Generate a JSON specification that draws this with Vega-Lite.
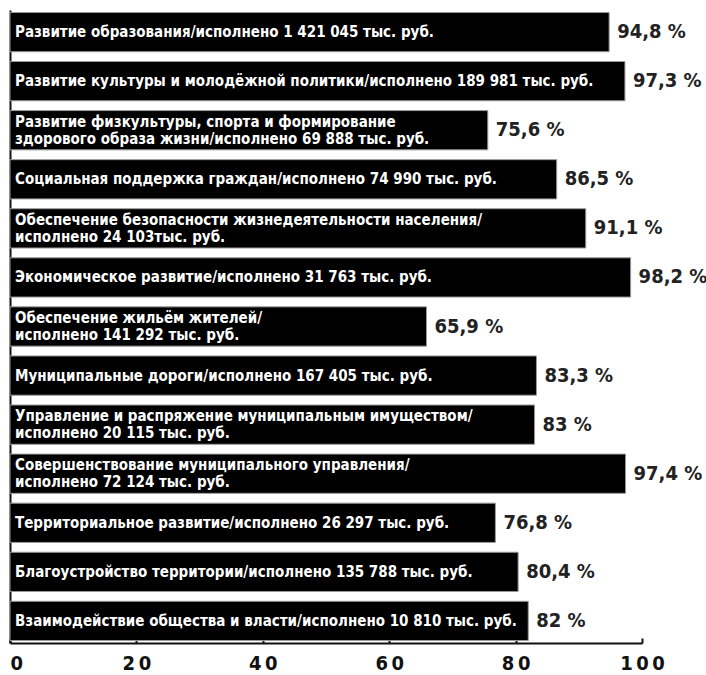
{
  "$schema": "https://vega.github.io/schema/vega-lite/v6.json",
  "width": 632,
  "height": 633,
  "autosize": "none",
  "padding": {"left": 10, "top": 10, "right": 64, "bottom": 32},
  "background": "white",
  "config": {"view": {"stroke": null}},
  "data": {"values": [
    {"label": "Развитие образования/исполнено 1 421 045 тыс. руб.", "value": 94.8, "pct": "94,8 %"},
    {"label": "Развитие культуры и молодёжной политики/исполнено 189 981 тыс. руб.", "value": 97.3, "pct": "97,3 %"},
    {"label": "Развитие физкультуры, спорта и формирование\nздорового образа жизни/исполнено 69 888 тыс. руб.", "value": 75.6, "pct": "75,6 %"},
    {"label": "Социальная поддержка граждан/исполнено 74 990 тыс. руб.", "value": 86.5, "pct": "86,5 %"},
    {"label": "Обеспечение безопасности жизнедеятельности населения/\nисполнено 24 103тыс. руб.", "value": 91.1, "pct": "91,1 %"},
    {"label": "Экономическое развитие/исполнено 31 763 тыс. руб.", "value": 98.2, "pct": "98,2 %"},
    {"label": "Обеспечение жильём жителей/\nисполнено 141 292 тыс. руб.", "value": 65.9, "pct": "65,9 %"},
    {"label": "Муниципальные дороги/исполнено 167 405 тыс. руб.", "value": 83.3, "pct": "83,3 %"},
    {"label": "Управление и распряжение муниципальным имуществом/\nисполнено 20 115 тыс. руб.", "value": 83, "pct": "83 %"},
    {"label": "Совершенствование муниципального управления/\nисполнено 72 124 тыс. руб.", "value": 97.4, "pct": "97,4 %"},
    {"label": "Территориальное развитие/исполнено 26 297 тыс. руб.", "value": 76.8, "pct": "76,8 %"},
    {"label": "Благоустройство территории/исполнено 135 788 тыс. руб.", "value": 80.4, "pct": "80,4 %"},
    {"label": "Взаимодействие общества и власти/исполнено 10 810 тыс. руб.", "value": 82, "pct": "82 %"}
  ]},
  "encoding": {
    "y": {
      "field": "label", "type": "nominal", "sort": null,
      "scale": {"paddingInner": 0.2, "paddingOuter": 0.05},
      "axis": {"title": null, "labels": false, "ticks": false, "domain": true, "domainColor": "#111", "domainWidth": 2}
    }
  },
  "layer": [
    {
      "mark": {"type": "bar", "color": "#000", "stroke": "#999", "strokeWidth": 1},
      "encoding": {
        "x": {
          "field": "value", "type": "quantitative",
          "scale": {"domain": [0, 100], "nice": false},
          "axis": {
            "title": null, "values": [0, 20, 40, 60, 80, 100], "grid": false,
            "domainColor": "#111", "domainWidth": 2,
            "tickColor": "#111", "tickWidth": 2, "tickSize": -5,
            "labelPadding": 15, "labelBaseline": "top",
            "labelFont": "DejaVu Sans Condensed, sans-serif",
            "labelFontWeight": "bold", "labelFontSize": 20, "labelColor": "#111",
            "labelAlign": {"condition": {"test": "datum.value == 0", "value": "left"}, "value": "center"},
            "labelExpr": "join(split(datum.label, ''), '\u2009')"
          }
        }
      }
    },
    {
      "mark": {"type": "text", "align": "left", "baseline": "middle", "dx": 5, "color": "white",
               "font": "DejaVu Sans Condensed, sans-serif", "fontWeight": "bold",
               "fontSize": 15, "lineBreak": "\n", "lineHeight": 17,
               "dy": {"expr": "indexof(datum.label, '\\n') >= 0 ? -8.5 : 0"}},
      "encoding": {
        "x": {"datum": 0, "type": "quantitative"},
        "text": {"field": "label"}
      }
    },
    {
      "mark": {"type": "text", "align": "left", "baseline": "middle", "dx": 8, "color": "#222",
               "font": "DejaVu Sans Condensed, sans-serif", "fontWeight": "bold",
               "fontSize": 20},
      "encoding": {
        "x": {"field": "value", "type": "quantitative"},
        "text": {"field": "pct"}
      }
    }
  ]
}
